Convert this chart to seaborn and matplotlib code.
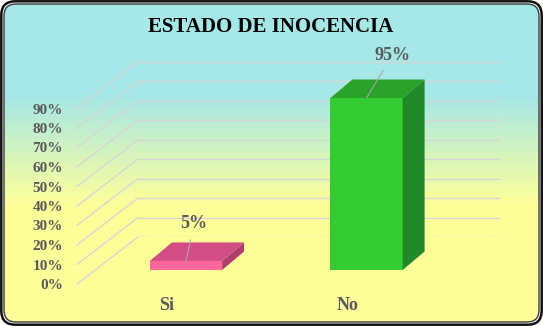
import numpy as np
import pandas as pd
import seaborn as sns
import matplotlib.pyplot as plt
from matplotlib.patches import FancyBboxPatch, Polygon

# data
categories = ['Si', 'No']
values = [5, 95]
ticks = [0, 10, 20, 30, 40, 50, 60, 70, 80, 90]
title = 'ESTADO DE INOCENCIA'

front_colors = ['#FF6699', '#33CC33']
top_colors = ['#D34E86', '#2BA32B']
side_colors = ['#AE3E6C', '#22892A']

W, H = 543, 326
SERIF = 'Liberation Serif'
TXT = '#595959'
GRID = '#D6D6D6'

sns.set_style('white')
plt.rcParams['font.family'] = [SERIF, 'DejaVu Serif']

fig = plt.figure(figsize=(W / 100, H / 100), dpi=100)


def box(left, top, w, h):
    # image pixel box -> figure fraction
    return [left / W, 1 - (top + h) / H, w / W, h / H]


# background gradient + rounded frame
ax_bg = fig.add_axes([0, 0, 1, 1])
ax_bg.set_xlim(0, W)
ax_bg.set_ylim(H, 0)
ax_bg.axis('off')

rows = np.arange(H)
cyan = np.array([166, 231, 231]) / 255
yellow = np.array([255, 255, 153]) / 255
frac = np.interp(rows, [95, 205], [0, 1])
grad = cyan[None, :] * (1 - frac[:, None]) + yellow[None, :] * frac[:, None]
grad = np.repeat(grad[:, None, :], 2, axis=1)

inner = FancyBboxPatch((4, 4), W - 8, H - 8,
                       boxstyle='round,pad=0,rounding_size=12',
                       fc='none', ec='#3a3a3a', lw=1.0)
im = ax_bg.imshow(grad, extent=(0, W, H, 0), aspect='auto')
ax_bg.add_patch(inner)
im.set_clip_path(inner)
outer = FancyBboxPatch((1.3, 1.3), W - 2.6, H - 2.6,
                       boxstyle='round,pad=0,rounding_size=14',
                       fc='none', ec='#111111', lw=1.8)
ax_bg.add_patch(outer)

fig.text(271 / W, 1 - 27 / H, title, ha='center', va='center',
         fontsize=15, fontweight='bold', color='black')

# walls: back gridlines and side-wall diagonals
ax_wall = fig.add_axes(box(138, 42, 362, 195))
ax_wall.set_xlim(0, 1)
ax_wall.set_ylim(0, 100)
ax_wall.axis('off')
ax_wall.hlines(ticks, 0, 1, color=GRID, lw=1)
for t in ticks:
    ax_wall.annotate('', xy=(0, t), xytext=(-61, -47), textcoords='offset pixels',
                     arrowprops=dict(arrowstyle='-', color=GRID, lw=1,
                                     shrinkA=0, shrinkB=0))
    ax_wall.annotate(f'{t}%', xy=(0, t), xytext=(-75, -48.5),
                     textcoords='offset pixels', ha='right', va='center',
                     fontsize=11, fontweight='bold', color=TXT)

# bars (front plane)
ax = fig.add_axes(box(95.75, 88.95, 361, 181.05))
df = pd.DataFrame({'cat': categories, 'val': values})
sns.barplot(data=df, x='cat', y='val', hue='cat', palette=front_colors,
            width=0.4, saturation=1, legend=False, linewidth=0, ax=ax)
ax.set_xlim(-0.5, 1.5)
ax.set_ylim(0, 100)
ax.axis('off')

inv = ax.transData.inverted()
d0, d1 = inv.transform([(0, 0), (22, 18.5)])
ddx, ddy = d1 - d0

for i, p in enumerate(ax.patches):
    x0, w, h = p.get_x(), p.get_width(), p.get_height()
    x1 = x0 + w
    top = Polygon([(x0, h), (x1, h), (x1 + ddx, h + ddy), (x0 + ddx, h + ddy)],
                  closed=True, fc=top_colors[i], ec='none', clip_on=False)
    side = Polygon([(x1, 0), (x1, h), (x1 + ddx, h + ddy), (x1 + ddx, ddy)],
                   closed=True, fc=side_colors[i], ec='none', clip_on=False)
    ax.add_patch(side)
    ax.add_patch(top)

label_offsets = [(8, 37), (26, 43)]
for i, v in enumerate(values):
    ax.annotate(f'{v}%', xy=(i, v), xytext=label_offsets[i],
                textcoords='offset pixels', ha='center', va='center',
                fontsize=13, fontweight='bold', color=TXT, zorder=5,
                arrowprops=dict(arrowstyle='-', color='#A6A6A6', lw=0.8,
                                shrinkA=3, shrinkB=0))
    ax.annotate(categories[i], xy=(i, 0), xytext=(-19, -36),
                textcoords='offset pixels', ha='center', va='center',
                fontsize=13, fontweight='bold', color=TXT)

fig.savefig('out.png', dpi=100)
